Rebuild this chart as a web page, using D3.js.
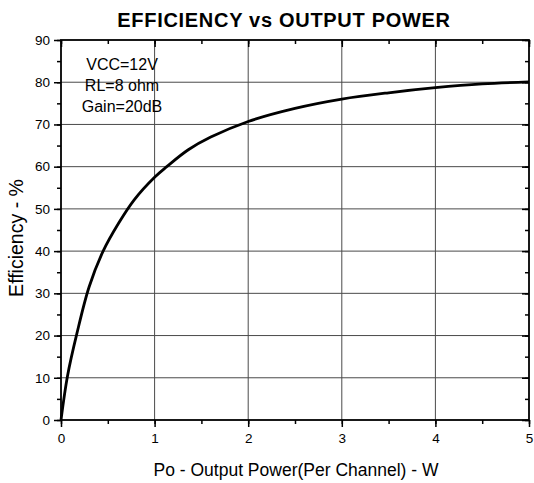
<!DOCTYPE html>
<html>
<head>
<meta charset="utf-8">
<script src="https://cdn.jsdelivr.net/npm/d3@7"></script>
<style>
  body { margin: 0; background: #fff; }
  text { font-family: "Liberation Sans", Arial, sans-serif; }
</style>
</head>
<body>
<svg id="chart"></svg>
<script>
// values
let powerW = [0, 0.07, 0.17, 0.3, 0.45, 0.615, 0.78, 1, 1.13, 1.36, 1.6, 2, 2.5, 3, 3.5, 4, 4.5, 5];
let efficiency = [0, 10.5, 20.5, 31.5, 40, 46.6, 52.1, 57.5, 60, 64, 67, 70.7, 73.8, 76, 77.5, 78.7, 79.6, 80.1];
let xTicks = [0, 1, 2, 3, 4, 5];
let yTicks = [0, 10, 20, 30, 40, 50, 60, 70, 80, 90];
let notes = ['VCC=12V', 'RL=8 ohm', 'Gain=20dB'];

let w = 534;
let h = 483;
let plotL = 61, plotR = 529, plotT = 40, plotB = 420;

let svg = d3.select('#chart').attr('width', w).attr('height', h);

let xScale = d3.scaleLinear().domain([0, 5]).range([plotL, plotR]);
let yScale = d3.scaleLinear().domain([0, 90]).range([plotB, plotT]);

// grid
svg.append('g')
    .selectAll('line')
    .data(yTicks.slice(1, -1))
    .enter()
    .append('line')
    .attr('x1', plotL).attr('x2', plotR)
    .attr('y1', d => yScale(d)).attr('y2', d => yScale(d))
    .attr('stroke', '#4a4a4a').attr('stroke-width', 1);

svg.append('g')
    .selectAll('line')
    .data(xTicks.slice(1, -1))
    .enter()
    .append('line')
    .attr('y1', plotT).attr('y2', plotB)
    .attr('x1', d => xScale(d)).attr('x2', d => xScale(d))
    .attr('stroke', '#4a4a4a').attr('stroke-width', 1);

let minorX = d3.range(0, 5.01, 0.5);
let minorY = d3.range(0, 90.1, 5);

let styleAxis = g => {
    g.select('.domain').remove();
    g.selectAll('line').attr('stroke', '#000').attr('stroke-width', 1.5);
    g.selectAll('text')
        .attr('font-family', '"Liberation Sans", Arial, sans-serif')
        .attr('font-size', 13.5)
        .attr('fill', '#000');
};

// minor ticks
svg.append('g').attr('transform', 'translate(0,' + plotB + ')')
    .call(d3.axisBottom(xScale).tickValues(minorX).tickSize(4).tickFormat(''))
    .call(styleAxis);
svg.append('g').attr('transform', 'translate(0,' + plotT + ')')
    .call(d3.axisBottom(xScale).tickValues(minorX).tickSize(4).tickFormat(''))
    .call(styleAxis);
svg.append('g').attr('transform', 'translate(' + plotL + ',0)')
    .call(d3.axisLeft(yScale).tickValues(minorY).tickSize(4).tickFormat(''))
    .call(styleAxis);
svg.append('g').attr('transform', 'translate(' + plotR + ',0)')
    .call(d3.axisLeft(yScale).tickValues(minorY).tickSize(4).tickFormat(''))
    .call(styleAxis);

// major ticks
svg.append('g').attr('id', 'x-axis').attr('transform', 'translate(0,' + plotB + ')')
    .call(d3.axisBottom(xScale).tickValues(xTicks).tickSize(7).tickPadding(6).tickFormat(d3.format('d')))
    .call(styleAxis);
svg.append('g').attr('transform', 'translate(0,' + plotT + ')')
    .call(d3.axisBottom(xScale).tickValues(xTicks).tickSize(7).tickFormat(''))
    .call(styleAxis);
svg.append('g').attr('id', 'y-axis').attr('transform', 'translate(' + plotL + ',0)')
    .call(d3.axisLeft(yScale).tickValues(yTicks).tickSize(7).tickPadding(4).tickFormat(d3.format('d')))
    .call(styleAxis);
svg.append('g').attr('transform', 'translate(' + plotR + ',0)')
    .call(d3.axisLeft(yScale).tickValues(yTicks).tickSize(7).tickFormat(''))
    .call(styleAxis);

// frame
svg.append('rect')
    .attr('x', plotL).attr('y', plotT)
    .attr('width', plotR - plotL).attr('height', plotB - plotT)
    .attr('fill', 'none').attr('stroke', '#000').attr('stroke-width', 1.8);

// curve
let line = d3.line()
    .x((d, i) => xScale(powerW[i]))
    .y(d => yScale(d))
    .curve(d3.curveCatmullRom.alpha(0.5));

svg.append('path')
    .datum(efficiency)
    .attr('d', line)
    .attr('fill', 'none')
    .attr('stroke', '#000')
    .attr('stroke-width', 2.8);

// texts
svg.append('text')
    .attr('x', 284).attr('y', 27)
    .attr('text-anchor', 'middle')
    .attr('font-size', 20).attr('font-weight', 'bold')
    .attr('letter-spacing', 0.7)
    .text('EFFICIENCY vs OUTPUT POWER');

svg.append('text')
    .attr('x', 296).attr('y', 476)
    .attr('text-anchor', 'middle')
    .attr('font-size', 17.5)
    .text('Po - Output Power(Per Channel) - W');

svg.append('text')
    .attr('transform', 'translate(23,238) rotate(-90)')
    .attr('text-anchor', 'middle')
    .attr('font-size', 19.5)
    .text('Efficiency - %');

svg.append('g')
    .selectAll('text')
    .data(notes)
    .enter()
    .append('text')
    .attr('x', 122)
    .attr('y', (d, i) => 69.5 + i * 21)
    .attr('text-anchor', 'middle')
    .attr('font-size', 16)
    .text(d => d);
</script>
</body>
</html>
